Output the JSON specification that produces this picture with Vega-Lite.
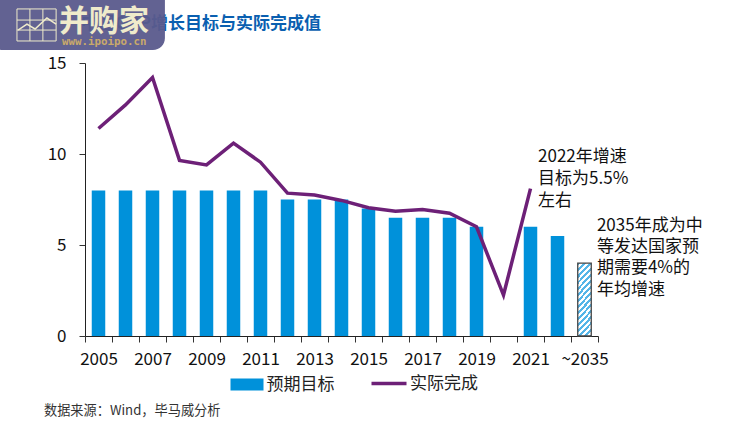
{
  "$schema": "https://vega.github.io/schema/vega-lite/v6.json",
  "width": 513,
  "height": 273,
  "autosize": "none",
  "padding": {"left": 85, "top": 63, "right": 140, "bottom": 97},
  "background": "white",
  "config": {"font": "Noto Sans CJK SC", "view": {"stroke": null}},
  "datasets": {
    "growth": [
      {"year": "2005", "target": 8, "actual": 11.4},
      {"year": "2006", "target": 8, "actual": 12.7},
      {"year": "2007", "target": 8, "actual": 14.2},
      {"year": "2008", "target": 8, "actual": 9.65},
      {"year": "2009", "target": 8, "actual": 9.4},
      {"year": "2010", "target": 8, "actual": 10.6},
      {"year": "2011", "target": 8, "actual": 9.55},
      {"year": "2012", "target": 7.5, "actual": 7.85},
      {"year": "2013", "target": 7.5, "actual": 7.75},
      {"year": "2014", "target": 7.5, "actual": 7.45},
      {"year": "2015", "target": 7, "actual": 7.05},
      {"year": "2016", "target": 6.5, "actual": 6.85},
      {"year": "2017", "target": 6.5, "actual": 6.95},
      {"year": "2018", "target": 6.5, "actual": 6.75},
      {"year": "2019", "target": 6, "actual": 6.0},
      {"year": "2020", "target": null, "actual": 2.25},
      {"year": "2021", "target": 6, "actual": 8.1},
      {"year": "2022", "target": 5.5, "actual": null},
      {"year": "~2035", "target": 4, "actual": null}
    ],
    "notes": [
      {"x": 2021.28, "y": 9.84, "label": "2022年增速"},
      {"x": 2021.28, "y": 8.63, "label": "目标为5.5%"},
      {"x": 2021.28, "y": 7.42, "label": "左右"},
      {"x": 2023.46, "y": 6.04, "label": "2035年成为中"},
      {"x": 2023.46, "y": 4.89, "label": "等发达国家预"},
      {"x": 2023.46, "y": 3.74, "label": "期需要4%的"},
      {"x": 2023.46, "y": 2.53, "label": "年均增速"}
    ],
    "logoGrid": [
      {"x": 2001.98, "x2": 2001.98, "y": 17.97, "y2": 16.21},
      {"x": 2002.46, "x2": 2002.46, "y": 17.97, "y2": 16.21},
      {"x": 2002.94, "x2": 2002.94, "y": 17.97, "y2": 16.21},
      {"x": 2003.43, "x2": 2003.43, "y": 17.97, "y2": 16.21},
      {"x": 2001.98, "x2": 2003.43, "y": 17.97, "y2": 17.97},
      {"x": 2001.98, "x2": 2003.43, "y": 17.36, "y2": 17.36},
      {"x": 2001.98, "x2": 2003.43, "y": 16.81, "y2": 16.81},
      {"x": 2001.98, "x2": 2003.43, "y": 16.21, "y2": 16.21}
    ],
    "logoLine": [
      {"x": 2002.02, "y": 16.81},
      {"x": 2002.35, "y": 17.14},
      {"x": 2002.65, "y": 16.87},
      {"x": 2003.09, "y": 17.47},
      {"x": 2003.43, "y": 17.14}
    ]
  },
  "layer": [
    {
      "layer": [
        {
          "data": {"name": "growth"},
          "transform": [{"filter": "datum.target != null && datum.year != '~2035'"}],
          "mark": {"type": "bar", "width": {"band": 0.5}},
          "encoding": {
            "x": {
              "field": "year",
              "type": "ordinal",
              "sort": null,
              "title": null,
              "scale": {
                "domain": ["2005","2006","2007","2008","2009","2010","2011","2012","2013","2014","2015","2016","2017","2018","2019","2020","2021","2022","~2035"],
                "paddingInner": 0,
                "paddingOuter": 0
              },
              "axis": {
                "labelAngle": 0,
                "labelFontSize": 17,
                "labelColor": "#111111",
                "labelPadding": 9,
                "labelOverlap": false,
                "labelExpr": "(+datum.value) % 2 == 0 ? '' : datum.value",
                "tickBand": "extent",
                "tickSize": 6,
                "tickColor": "#333333",
                "domainColor": "#222222",
                "grid": false
              }
            },
            "y": {
              "field": "target",
              "type": "quantitative",
              "title": null,
              "scale": {"domain": [0, 15], "nice": false},
              "axis": {
                "values": [0, 5, 10, 15],
                "labelFontSize": 17,
                "labelColor": "#111111",
                "labelPadding": 13,
                "tickSize": 6,
                "tickColor": "#333333",
                "domainColor": "#222222",
                "grid": false
              }
            },
            "fill": {
              "datum": "预期目标",
              "scale": {"range": ["#0091DA"]},
              "legend": {
                "title": null,
                "orient": "none",
                "legendX": 153.5,
                "legendY": 313,
                "padding": 0,
                "symbolType": "M-2.75,-1H2.75V1H-2.75Z",
                "symbolSize": 144,
                "symbolStrokeWidth": 0,
                "labelFontSize": 17,
                "labelColor": "#222222",
                "labelOffset": 11
              }
            }
          }
        },
        {
          "data": {"name": "growth"},
          "transform": [{"filter": "datum.year == '~2035'"}],
          "mark": {
            "type": "bar",
            "width": {"band": 0.5},
            "stroke": "#444444",
            "strokeWidth": 1.3,
            "fill": {
              "gradient": "linear",
              "x1": 0, "y1": 0, "x2": 0.23, "y2": 1.2,
              "stops": [
                {"offset": 0, "color": "#55b5e8"}, {"offset": 0.033, "color": "#55b5e8"}, {"offset": 0.033, "color": "#ffffff"}, {"offset": 0.067, "color": "#ffffff"},
                {"offset": 0.067, "color": "#55b5e8"}, {"offset": 0.1, "color": "#55b5e8"}, {"offset": 0.1, "color": "#ffffff"}, {"offset": 0.133, "color": "#ffffff"},
                {"offset": 0.133, "color": "#55b5e8"}, {"offset": 0.167, "color": "#55b5e8"}, {"offset": 0.167, "color": "#ffffff"}, {"offset": 0.2, "color": "#ffffff"},
                {"offset": 0.2, "color": "#55b5e8"}, {"offset": 0.233, "color": "#55b5e8"}, {"offset": 0.233, "color": "#ffffff"}, {"offset": 0.267, "color": "#ffffff"},
                {"offset": 0.267, "color": "#55b5e8"}, {"offset": 0.3, "color": "#55b5e8"}, {"offset": 0.3, "color": "#ffffff"}, {"offset": 0.333, "color": "#ffffff"},
                {"offset": 0.333, "color": "#55b5e8"}, {"offset": 0.367, "color": "#55b5e8"}, {"offset": 0.367, "color": "#ffffff"}, {"offset": 0.4, "color": "#ffffff"},
                {"offset": 0.4, "color": "#55b5e8"}, {"offset": 0.433, "color": "#55b5e8"}, {"offset": 0.433, "color": "#ffffff"}, {"offset": 0.467, "color": "#ffffff"},
                {"offset": 0.467, "color": "#55b5e8"}, {"offset": 0.5, "color": "#55b5e8"}, {"offset": 0.5, "color": "#ffffff"}, {"offset": 0.533, "color": "#ffffff"},
                {"offset": 0.533, "color": "#55b5e8"}, {"offset": 0.567, "color": "#55b5e8"}, {"offset": 0.567, "color": "#ffffff"}, {"offset": 0.6, "color": "#ffffff"},
                {"offset": 0.6, "color": "#55b5e8"}, {"offset": 0.633, "color": "#55b5e8"}, {"offset": 0.633, "color": "#ffffff"}, {"offset": 0.667, "color": "#ffffff"},
                {"offset": 0.667, "color": "#55b5e8"}, {"offset": 0.7, "color": "#55b5e8"}, {"offset": 0.7, "color": "#ffffff"}, {"offset": 0.733, "color": "#ffffff"},
                {"offset": 0.733, "color": "#55b5e8"}, {"offset": 0.767, "color": "#55b5e8"}, {"offset": 0.767, "color": "#ffffff"}, {"offset": 0.8, "color": "#ffffff"},
                {"offset": 0.8, "color": "#55b5e8"}, {"offset": 0.833, "color": "#55b5e8"}, {"offset": 0.833, "color": "#ffffff"}, {"offset": 0.867, "color": "#ffffff"},
                {"offset": 0.867, "color": "#55b5e8"}, {"offset": 0.9, "color": "#55b5e8"}, {"offset": 0.9, "color": "#ffffff"}, {"offset": 0.933, "color": "#ffffff"},
                {"offset": 0.933, "color": "#55b5e8"}, {"offset": 0.967, "color": "#55b5e8"}, {"offset": 0.967, "color": "#ffffff"}, {"offset": 1, "color": "#ffffff"}
              ]
            }
          },
          "encoding": {
            "x": {"field": "year", "type": "ordinal", "sort": null},
            "y": {"field": "target", "type": "quantitative"}
          }
        },
        {
          "data": {"name": "growth"},
          "transform": [{"filter": "datum.actual != null"}],
          "mark": {"type": "line", "strokeWidth": 3.5, "strokeJoin": "miter"},
          "encoding": {
            "x": {"field": "year", "type": "ordinal", "sort": null},
            "y": {"field": "actual", "type": "quantitative"},
            "stroke": {
              "datum": "实际完成",
              "scale": {"range": ["#6D2077"]},
              "legend": {
                "title": null,
                "orient": "none",
                "legendX": 284.5,
                "legendY": 301,
                "padding": 0,
                "symbolType": "stroke",
                "symbolSize": 1225,
                "symbolStrokeWidth": 3.5,
                "labelFontSize": 17,
                "labelColor": "#222222",
                "labelOffset": 1.5
              }
            }
          }
        }
      ]
    },
    {
      "encoding": {
        "x": {"field": "x", "type": "quantitative", "scale": {"domain": [2004.5, 2023.5], "nice": false}, "axis": null},
        "y": {"field": "y", "type": "quantitative"}
      },
      "layer": [
        {
          "data": {"name": "notes"},
          "mark": {"type": "text", "align": "left", "baseline": "middle", "fontSize": 17, "color": "#111111"},
          "encoding": {"text": {"field": "label"}}
        },
        {
          "data": {"values": [{"x": 2002.98, "y": -4.12, "label": "数据来源：Wind，毕马威分析"}]},
          "mark": {"type": "text", "align": "left", "baseline": "middle", "fontSize": 13.2, "color": "#333333"},
          "encoding": {"text": {"field": "label"}}
        },
        {
          "data": {"values": [{"x": 2013.24, "y": 17.14, "label": "中国GDP增长目标与实际完成值"}]},
          "mark": {"type": "text", "align": "right", "baseline": "middle", "fontSize": 17, "fontWeight": "bold", "color": "#0A5FB0"},
          "encoding": {"text": {"field": "label"}}
        },
        {
          "data": {"values": [{"x": 2001.0, "x2": 2007.46, "y": 19.5, "y2": 15.71}]},
          "mark": {"type": "rect", "color": "#5A5A8C", "opacity": 0.95, "cornerRadius": 12},
          "encoding": {"x2": {"field": "x2"}, "y2": {"field": "y2"}}
        },
        {
          "data": {"name": "logoGrid"},
          "mark": {"type": "rule", "color": "#EFEBCB", "strokeWidth": 1},
          "encoding": {"x2": {"field": "x2"}, "y2": {"field": "y2"}}
        },
        {
          "data": {"name": "logoLine"},
          "mark": {"type": "line", "color": "#EFEBCB", "strokeWidth": 1.5}
        },
        {
          "data": {"values": [{"x": 2003.54, "y": 17.25, "label": "并购家"}]},
          "mark": {"type": "text", "align": "left", "baseline": "middle", "fontSize": 30, "fontWeight": "bold", "color": "#EFEBCB"},
          "encoding": {"text": {"field": "label"}}
        },
        {
          "data": {"values": [{"x": 2003.65, "y": 16.15, "label": "www.ipoipo.cn"}]},
          "mark": {"type": "text", "align": "left", "baseline": "middle", "fontSize": 10.8, "font": "DejaVu Sans Mono", "fontWeight": "bold", "color": "#C9A96A"},
          "encoding": {"text": {"field": "label"}}
        }
      ]
    }
  ],
  "resolve": {"scale": {"x": "independent"}}
}
